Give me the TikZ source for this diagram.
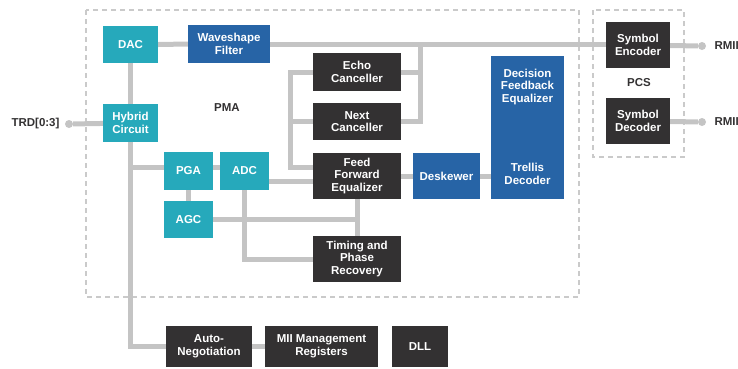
\documentclass[tikz,border=0pt]{standalone}
\usepackage{fontspec}
\setmainfont{Liberation Sans}
\definecolor{anateal}{HTML}{26A9BB}
\definecolor{dspblue}{HTML}{2764A6}
\definecolor{blkdark}{HTML}{333132}
\definecolor{wiregray}{HTML}{C4C4C4}
\definecolor{dashgray}{HTML}{CACACA}
\begin{document}
\begin{tikzpicture}[x=1pt, y=-1pt, font=\fontsize{11.5}{12.5}\selectfont\bfseries,
        box/.style = {text=white, align=center, inner sep=0pt},
        ana/.style = {box, fill=anateal},
        dsp/.style = {box, fill=dspblue},
        blk/.style = {box, fill=blkdark},
        wire/.style = {draw=wiregray, line width=5pt},
        port/.style = {circle, fill=wiregray, inner sep=0pt, minimum size=8pt},
        frame/.style = {draw=dashgray, line width=1.2pt, dash pattern=on 5pt off 4pt},
        tag/.style = {text=blkdark}]
        \useasboundingbox (0,0) rectangle (738,368);
        % sublayer frames
        \draw[frame] (86,10) rectangle (579,297);
        \draw[frame] (593,10) rectangle (684,157);
        \node[tag] (pma) at (227,108) {PMA};
        \node[tag] (pcs) at (639,83) {PCS};
        % analog front end
        \node[ana, minimum width=55pt, minimum height=37pt] (dac) at (130.5,44.5) {DAC};
        \node[ana, minimum width=55pt, minimum height=38pt] (hyb) at (130.5,123) {Hybrid\\Circuit};
        \node[ana, minimum width=49pt, minimum height=38pt] (pga) at (188.5,171) {PGA};
        \node[ana, minimum width=49pt, minimum height=38pt] (adc) at (244.5,171) {ADC};
        \node[ana, minimum width=49pt, minimum height=37pt] (agc) at (188.5,219.5) {AGC};
        % dsp blocks
        \node[dsp, minimum width=82pt, minimum height=38pt] (wave) at (229,44) {Waveshape\\Filter};
        \node[dsp, minimum width=67pt, minimum height=46pt] (desk) at (446.5,176) {Deskewer};
        \node[dsp, minimum width=73pt, minimum height=143pt] (dfe) at (527.5,127.5) {};
        \node[box] (dfetxt) at (527.5,87) {Decision\\Feedback\\Equalizer};
        \node[box] (trellis) at (527.5,174) {Trellis\\Decoder};
        \node[blk, minimum width=88pt, minimum height=38pt] (echo) at (357,72) {Echo\\Canceller};
        \node[blk, minimum width=88pt, minimum height=37pt] (next) at (357,121.5) {Next\\Canceller};
        \node[blk, minimum width=88pt, minimum height=46pt] (ffe) at (357,176) {Feed\\Forward\\Equalizer};
        \node[blk, minimum width=88pt, minimum height=46pt] (timing) at (357,259) {Timing and\\Phase\\Recovery};
        % management
        \node[blk, minimum width=86pt, minimum height=41pt] (auto) at (209,346.5) {Auto-\\Negotiation};
        \node[blk, minimum width=113pt, minimum height=41pt] (mii) at (321.5,346.5) {MII Management\\Registers};
        \node[blk, minimum width=56pt, minimum height=41pt] (dll) at (420,346.5) {DLL};
        % pcs
        \node[blk, minimum width=64pt, minimum height=46pt] (enc) at (638,45) {Symbol\\Encoder};
        \node[blk, minimum width=64pt, minimum height=46pt] (dec) at (638,121) {Symbol\\Decoder};
        % ports
        \node[port] (trd) at (69,124) {};
        \node[port] (rmiitx) at (702,46) {};
        \node[port] (rmiirx) at (702,122) {};
        \node[tag, anchor=east] (trdtxt) at (63,124) {TRD[0:3]};
        \node[tag, anchor=west] (rmiitxt1) at (711,46) {RMII};
        \node[tag, anchor=west] (rmiitxt2) at (711,122) {RMII};
        % connections
        \coordinate (pgaw) at ([yshift=4pt]pga.west);
        \coordinate (lbus) at ([xshift=-22pt]echo.west);
        \coordinate (rbus) at ([xshift=19pt]echo.east);
        \draw[wire] (dac.east) -- (wave.west);
        \draw[wire] (wave.east) -- (wave.east -| enc.west);
        \draw[wire] (dac) -- (hyb);
        \draw[wire] (trd) -- (hyb);
        \draw[wire] (hyb.south) |- (auto.west);
        \draw[wire] (pgaw) -- (pgaw -| hyb.south);
        \draw[wire] (pgaw -| pga.east) -- (pgaw -| adc.west);
        \draw[wire] (pga) -- (agc);
        \draw[wire] (agc.east) -- (agc.east -| ffe.south);
        \draw[wire] (ffe) -- (timing);
        \draw[wire] (adc.south) |- (timing.west);
        \draw[wire] ([yshift=-10pt]adc.east) -- ([yshift=-10pt]adc.east -| ffe.west);
        \draw[wire] (ffe) -- (desk);
        \draw[wire] (desk.east) -- (desk.east -| dfe.west);
        \draw[wire] (echo.west) -- (lbus) |- ([yshift=9pt]ffe.west);
        \draw[wire] (next.west) -- (next.west -| lbus);
        \draw[wire] (next.east) -| (rbus |- wave.east);
        \draw[wire] (echo.east) -- (echo.east -| rbus);
        \draw[wire] (enc) -- (rmiitx);
        \draw[wire] (dec) -- (rmiirx);
        \draw[wire] (auto) -- (mii);
    \end{tikzpicture}
\end{document}
